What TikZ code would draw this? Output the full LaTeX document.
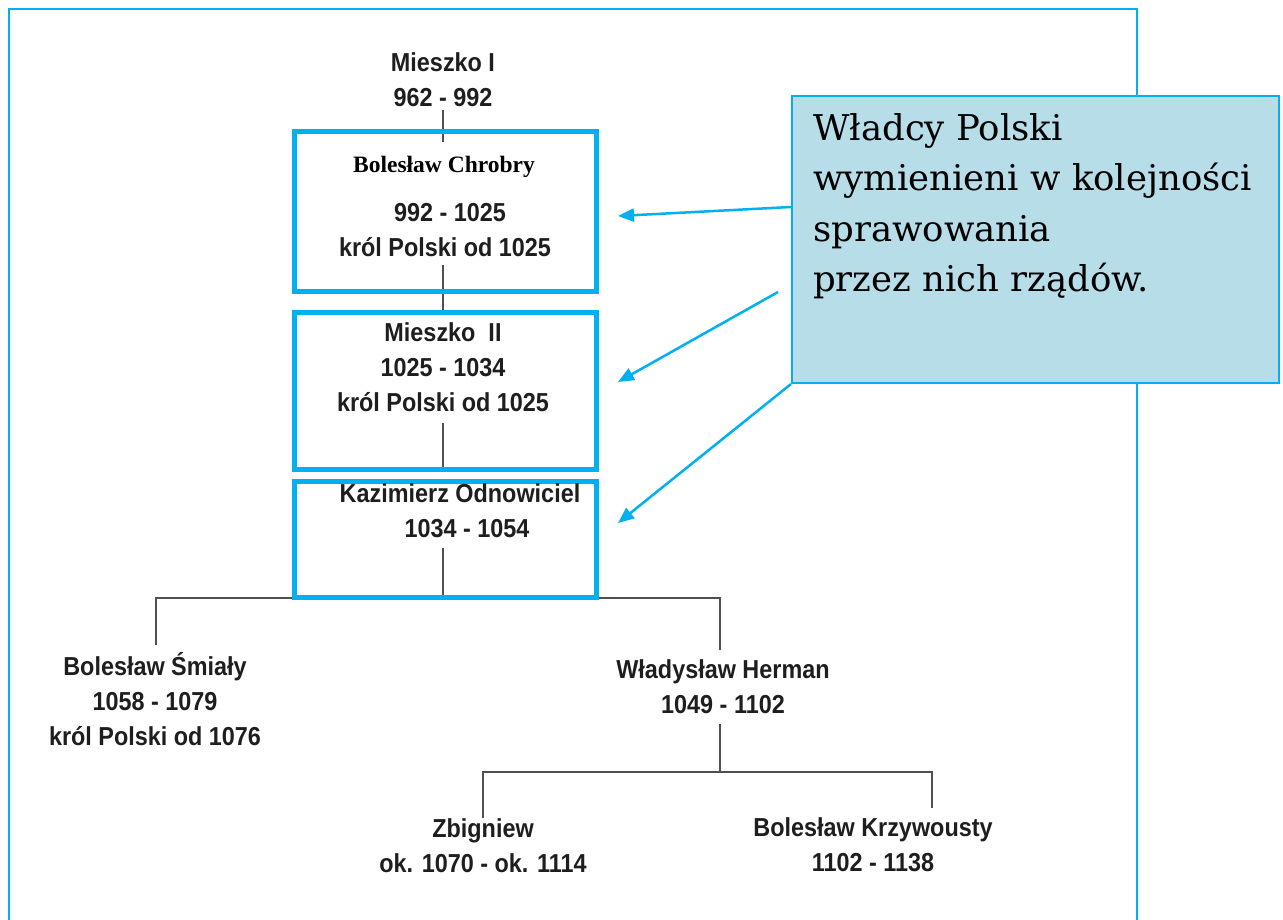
\documentclass[tikz,border=0pt]{standalone}
\usepackage{fontspec}
\setmainfont{Liberation Sans}
\newfontfamily\treefont[FakeStretch=0.9]{Liberation Sans}
\newfontfamily\calloutfont{DejaVu Serif}
\newfontfamily\timesfont{Liberation Serif}
\usetikzlibrary{arrows.meta}
\definecolor{office}{RGB}{0,176,240}
\definecolor{calloutfill}{RGB}{183,221,232}
\definecolor{treeline}{RGB}{80,80,80}
\definecolor{ink}{RGB}{30,30,30}
\begin{document}
\begin{tikzpicture}[x=1pt,y=-1pt,
  person/.style={font=\treefont\bfseries\fontsize{26}{35}\selectfont, text=ink, align=center, inner sep=0pt},
  reign/.style={draw=office, line width=5pt, inner sep=0pt},
  tree/.style={draw=treeline, line width=1.5pt},
  pointer/.style={draw=office, line width=2.5pt, -{Triangle[length=16pt,width=13pt]}},
]
\useasboundingbox (0,0) rectangle (1283,920);
% outer frame
\draw[office, line width=2pt] (9,940) -- (9,9) -- (1137,9) -- (1137,940);

% tree lines
\coordinate (v0) at (443,110);
\coordinate (v1) at (443,142);
\coordinate (v2) at (443,265);
\coordinate (v3) at (443,313);
\coordinate (v4) at (443,423);
\coordinate (v5) at (443,467);
\coordinate (v6) at (443,548);
\coordinate (bar) at (443,598);
\draw[tree] (v0) -- (v1);
\draw[tree] (v2) -- (v3);
\draw[tree] (v4) -- (v5);
\draw[tree] (v6) -- (bar);
\coordinate (bl) at (156,645);
\coordinate (br) at (720,650);
\draw[tree] (bl) -- (bl |- bar) -- (br |- bar) -- (br);
\coordinate (h0) at (720,724);
\coordinate (h1) at (720,772);
\coordinate (zl) at (483,818);
\coordinate (zr) at (932,808);
\draw[tree] (h0) -- (h1);
\draw[tree] (zl) -- (zl |- h1) -- (zr |- h1) -- (zr);

% reign boxes
\node[reign, minimum width=302pt, minimum height=160pt] (box1) at (445,211.5) {};
\node[reign, minimum width=302pt, minimum height=157pt] (box2) at (445,391) {};
\node[reign, minimum width=302pt, minimum height=116pt] (box3) at (445,539.5) {};

% people
\node[person] (m1) at (443,80) {Mieszko I\\962 - 992};
\node[font=\timesfont\bfseries\fontsize{23.5}{26}\selectfont, inner sep=0pt] (chrobryname) at (444,167) {Bolesław Chrobry};
\node[person] (chrobry) at (445,230) {\hspace*{10pt}992 - 1025\\król Polski od 1025};
\node[person] (m2) at (443,367) {Mieszko~~II\\1025 - 1034\\król Polski od 1025};
\node[person] (kaz) at (460,511) {Kazimierz Odnowiciel\\\hspace*{14pt}1034 - 1054};
\node[person] (smialy) at (155,699) {Bolesław Śmiały\\1058 - 1079\\król Polski od 1076};
\node[person] (herman) at (723,687) {Władysław Herman\\1049 - 1102};
\node[person] (zbig) at (483,846) {Zbigniew\\ok. 1070 - ok. 1114};
\node[person] (krzyw) at (873,845) {Bolesław Krzywousty\\1102 - 1138};

% callout
\node[draw=office, fill=calloutfill, line width=2pt, minimum width=487pt, minimum height=287pt, anchor=north west] (note) at (791,95) {};
\node[anchor=north west, align=left, inner sep=0pt, font=\calloutfont\fontsize{35.5}{50.5}\selectfont] (notetext) at (813,113) {Władcy Polski\\wymienieni w kolejności\\sprawowania\\przez nich rządów.};

% pointers
\coordinate (p1s) at (791,207);
\coordinate (p1e) at (618,216);
\coordinate (p2s) at (778,292);
\coordinate (p2e) at (618,382);
\coordinate (p3e) at (618,523);
\draw[pointer] (p1s) -- (p1e);
\draw[pointer] (p2s) -- (p2e);
\draw[pointer] (note.south west) -- (p3e);
\end{tikzpicture}
\end{document}
